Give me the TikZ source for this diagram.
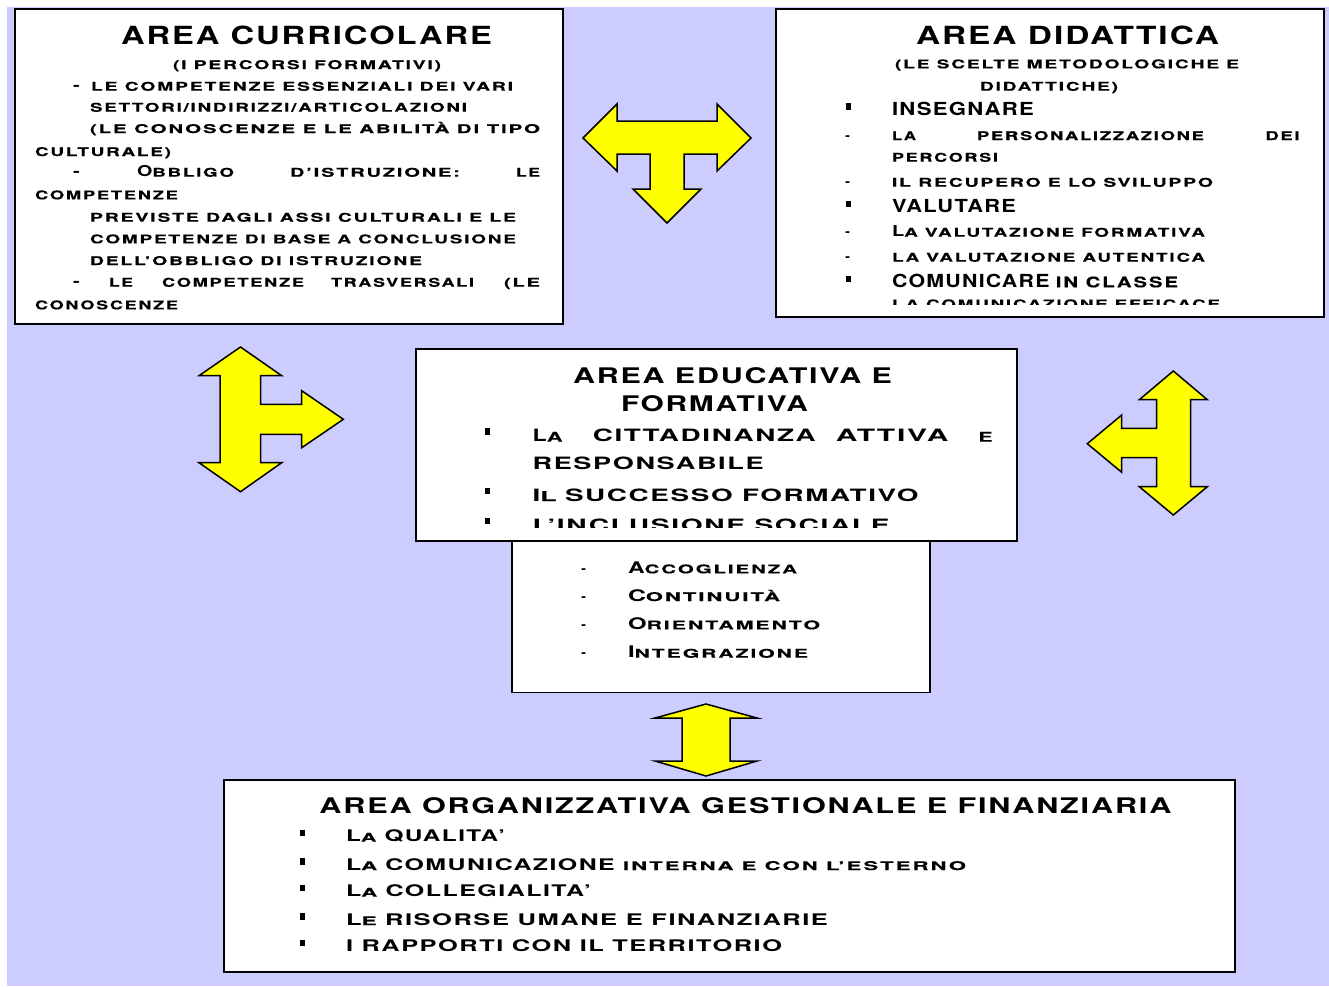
\documentclass[tikz,border=0pt]{standalone}
\usepackage{fontspec}
\usepackage{graphicx}
\newfontfamily\Tf{TeX Gyre Heros}[FakeStretch=1.35,LetterSpace=8]
\newfontfamily\Sf{TeX Gyre Heros}[FakeStretch=1.6,LetterSpace=15,FakeBold=0.3]
\newfontfamily\Hf{Liberation Sans}
\newcommand\BG[2][15]{{\Tf\bfseries\fontsize{#1}{#1}\selectfont #2}}
\newcommand\SM[2][12]{{\Sf\bfseries\fontsize{#1}{#1}\selectfont #2}}
\definecolor{lav}{HTML}{CCCCFF}
\definecolor{yel}{HTML}{FFFF00}
\newcounter{tn}
\newcommand\mytext[4]{\stepcounter{tn}\node[txt] (t\arabic{tn}) at (#1,#2) {\resizebox{#3pt}{\height}{#4}};}
\newcommand\mydashB[2]{\stepcounter{tn}\node[txt] (t\arabic{tn}) at (#1,#2) {\BG{-}};}
\newcommand\mydashT[2]{\stepcounter{tn}\node[txt] (t\arabic{tn}) at (#1,#2) {\Hf\fontsize{15}{15}\selectfont -};}
\newcommand\mybul[2]{\stepcounter{tn}\node[bul] (t\arabic{tn}) at (#1,#2) {};}
\begin{document}
\begin{tikzpicture}[x=1pt,y=-1pt,
  txt/.style={anchor=base west,inner sep=0pt,outer sep=0pt,font=\Sf\bfseries\fontsize{12}{14}\selectfont},
  bul/.style={fill=black,inner sep=0pt,minimum width=5.5pt,minimum height=6.5pt},
  box/.style={draw=black,fill=white,line width=1.6pt,anchor=north west,inner sep=0pt},
  arr/.style={draw=black,fill=yel,line width=1.5pt,line join=miter}]
\useasboundingbox (0,0) rectangle (1329,986);
\fill[white] (0,0) rectangle (1329,986);
\fill[lav] (7,7) rectangle (1329,986);
% boxes
\node[box,minimum width=548pt,minimum height=315pt] (cur) at (14,8) {};
\node[box,minimum width=548pt,minimum height=308pt] (did) at (775,8) {};
\node[box,minimum width=418pt,minimum height=161pt] (sub) at (511,530.5) {};
\node[box,minimum width=601pt,minimum height=192pt] (edu) at (415,348) {};
\node[box,minimum width=1011pt,minimum height=192pt] (org) at (223,779) {};
% arrows
\draw[arr] (583,138) -- (617,104) -- (617,121) -- (717,121) -- (717,104) -- (751,138) -- (717,171) -- (717,154) -- (684,154) -- (684,189) -- (701,189) -- (667,223) -- (633,189) -- (650,189) -- (650,154) -- (617,154) -- (617,171) -- cycle;
\draw[arr] (240.5,347) -- (281.7,375.7) -- (260.7,375.7) -- (260.7,404.3) -- (301.7,404.3) -- (301.7,390.7) -- (343.3,419.3) -- (301.7,447.7) -- (301.7,434.3) -- (260.7,434.3) -- (260.7,462.7) -- (281.7,462.7) -- (240.5,491.7) -- (199,462.7) -- (220,462.7) -- (220,375.7) -- (199,375.7) -- cycle;
\draw[arr] (1173.3,371) -- (1207.3,399.7) -- (1190.7,399.7) -- (1190.7,486.7) -- (1207.3,486.7) -- (1173.3,515) -- (1139.3,486.7) -- (1156.7,486.7) -- (1156.7,457.7) -- (1121.7,457.7) -- (1121.7,472.3) -- (1087.3,443.7) -- (1121.7,415) -- (1121.7,428.3) -- (1156.7,428.3) -- (1156.7,399.7) -- (1139.3,399.7) -- cycle;
\draw[arr] (706,704) -- (757,718) -- (730,718) -- (730,761) -- (757,761) -- (706,776) -- (655,761) -- (682,761) -- (682,718) -- (655,718) -- cycle;
% AREA CURRICOLARE
\mytext{121}{44}{371}{\BG[25]{AREA CURRICOLARE}}
\mytext{173}{69}{268}{\SM{(I PERCORSI FORMATIVI)}}
\mydashB{73}{90.7}
\mytext{91}{90.7}{422}{\SM{LE COMPETENZE ESSENZIALI DEI VARI}}
\mytext{90}{111.7}{377}{\SM{SETTORI/INDIRIZZI/ARTICOLAZIONI}}
\mytext{90}{133}{450}{\SM{(LE CONOSCENZE E LE ABILITÀ DI TIPO}}
\mytext{35}{156}{136}{\SM{CULTURALE)}}
\mydashB{73}{176.7}
\mytext{137}{176.7}{97}{\BG{O}\SM{BBLIGO}}
\mytext{290}{176.7}{170}{\SM{D’ISTRUZIONE:}}
\mytext{516}{176.7}{24}{\SM{LE}}
\mytext{35}{199.3}{143}{\SM{COMPETENZE}}
\mytext{90}{221.7}{426}{\SM{PREVISTE DAGLI ASSI CULTURALI E LE}}
\mytext{90}{243.3}{426}{\SM{COMPETENZE DI BASE A CONCLUSIONE}}
\mytext{90}{265}{332}{\SM{DELL’OBBLIGO DI ISTRUZIONE}}
\mydashB{73}{286.7}
\mytext{109}{286.7}{24}{\SM{LE}}
\mytext{162}{286.7}{142}{\SM{COMPETENZE}}
\mytext{331}{286.7}{143}{\SM{TRASVERSALI}}
\mytext{504}{286.7}{36}{\SM{(LE}}
\mytext{35}{309.3}{143}{\SM{CONOSCENZE}}
% AREA DIDATTICA
\mytext{916}{44.3}{303}{\BG[25]{AREA DIDATTICA}}
\mytext{895}{68.3}{344}{\SM{(LE SCELTE METODOLOGICHE E}}
\mytext{980}{90.7}{138}{\SM{DIDATTICHE)}}
\mybul{848.5}{106.5}
\mytext{892}{115}{142}{\BG[18]{INSEGNARE}}
\mydashT{845}{140}
\mytext{892}{140}{24}{\SM{LA}}
\mytext{977}{140}{227}{\SM{PERSONALIZZAZIONE}}
\mytext{1265.5}{140}{34}{\SM{DEI}}
\mytext{892}{161.7}{106}{\SM{PERCORSI}}
\mydashT{845}{186.7}
\mytext{892}{186.7}{321}{\SM{IL RECUPERO E LO SVILUPPO}}
\mybul{848.5}{203.8}
\mytext{892}{212.3}{124}{\BG[18]{VALUTARE}}
\mydashT{845}{236.7}
\mytext{892}{236.7}{313}{\BG{L}\SM{A VALUTAZIONE FORMATIVA}}
\mydashT{845}{261.7}
\mytext{892}{261.7}{313}{\SM{LA VALUTAZIONE AUTENTICA}}
\mybul{848.5}{278.8}
\mytext{892}{287.3}{286}{\BG[18]{COMUNICARE} \SM[14.5]{IN CLASSE}}
\begin{scope}
\clip (775,8) rectangle (1323,304);
\mytext{892}{308.3}{328}{\SM{LA COMUNICAZIONE EFFICACE}}
\end{scope}
% AREA EDUCATIVA
\mytext{573}{383.3}{319}{\BG[21.5]{AREA EDUCATIVA E}}
\mytext{621}{411.7}{187}{\BG[21.5]{FORMATIVA}}
\mybul{487.4}{431.7}
\mytext{532.6}{441.7}{30}{\BG[17]{L}\SM[13.5]{A}}
\mytext{592.8}{441.7}{223}{\BG[17]{CITTADINANZA}}
\mytext{835.9}{441.7}{112.5}{\BG[17]{ATTIVA}}
\mytext{978.5}{441.7}{14}{\SM[13.5]{E}}
\mytext{532.6}{469.3}{231}{\BG[17]{RESPONSABILE}}
\mybul{487.4}{491}
\mytext{532.6}{501}{386}{\BG[17]{I}\SM[13.5]{L} \BG[17]{SUCCESSO FORMATIVO}}
\begin{scope}
\clip (415,348) rectangle (1016,527.5);
\mybul{487.4}{521}
\mytext{532.6}{531}{357}{\BG[17]{L’INCLUSIONE SOCIALE}}
\end{scope}
% sub items
\mydashT{581}{573.3}
\mytext{628}{573.3}{169}{\BG[16]{A}\SM{CCOGLIENZA}}
\mydashT{581}{601}
\mytext{628}{601}{152}{\BG[16]{C}\SM{ONTINUITÀ}}
\mydashT{581}{629.3}
\mytext{628}{629.3}{192}{\BG[16]{O}\SM{RIENTAMENTO}}
\mydashT{581}{657.7}
\mytext{628}{657.7}{180}{\BG[16]{I}\SM{NTEGRAZIONE}}
% AREA ORGANIZZATIVA
\mytext{319.4}{813.3}{852}{\BG[21.5]{AREA ORGANIZZATIVA GESTIONALE E FINANZIARIA}}
\mybul{302.7}{833.2}
\mytext{346}{841.7}{159}{\BG[16]{L}\SM{A} \BG[16]{QUALITA’}}
\mybul{302.7}{861.5}
\mytext{346}{870}{620}{\BG[16]{L}\SM{A} \BG[16]{COMUNICAZIONE} \SM{INTERNA E CON L’ESTERNO}}
\mybul{302.7}{888.2}
\mytext{346}{896.7}{245}{\BG[16]{L}\SM{A} \BG[16]{COLLEGIALITA’}}
\mybul{302.7}{916.5}
\mytext{346}{925}{482}{\BG[16]{L}\SM{E} \BG[16]{RISORSE UMANE E FINANZIARIE}}
\mybul{302.7}{943.2}
\mytext{346}{951.7}{436}{\BG[16]{I RAPPORTI CON IL TERRITORIO}}
\end{tikzpicture}
\end{document}
